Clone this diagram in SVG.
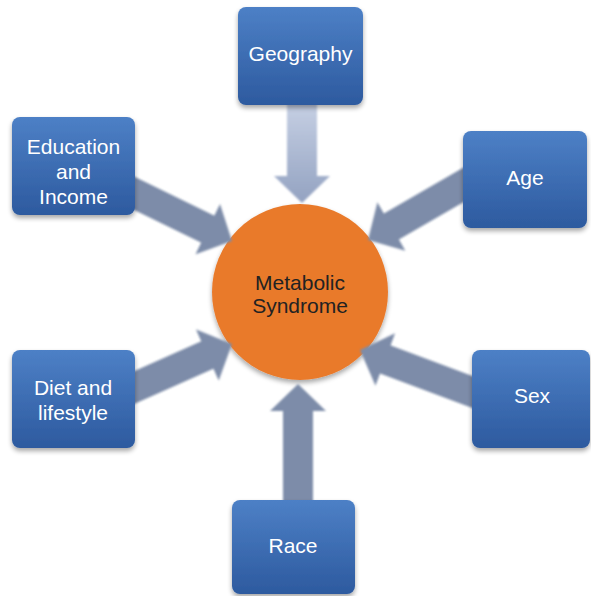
<svg xmlns="http://www.w3.org/2000/svg" width="591" height="596" viewBox="0 0 591 596">
  <defs>
    <linearGradient id="boxFill" x1="0" y1="0" x2="0" y2="1">
      <stop offset="0" stop-color="#4d80c6"/>
      <stop offset="1" stop-color="#2d5a9f"/>
    </linearGradient>
    <linearGradient id="geoFill" x1="0" y1="0" x2="1" y2="0">
      <stop offset="0" stop-color="#c6d0e4"/>
      <stop offset="1" stop-color="#93a2c1"/>
    </linearGradient>
    <filter id="shadow" x="-20%" y="-20%" width="140%" height="150%">
      <feGaussianBlur in="SourceAlpha" stdDeviation="2.5"/>
      <feOffset dx="0" dy="3" result="b"/>
      <feComponentTransfer><feFuncA type="linear" slope="0.35"/></feComponentTransfer>
      <feMerge><feMergeNode/><feMergeNode in="SourceGraphic"/></feMerge>
    </filter>
    <filter id="soft" x="-20%" y="-30%" width="140%" height="160%">
      <feGaussianBlur stdDeviation="0.8"/>
    </filter>
  </defs>
  <style>
    .box { fill: url(#boxFill); filter: url(#shadow); }
    .lbl { font-family: "Liberation Sans", Arial, sans-serif; font-size: 21px; fill: #ffffff; text-anchor: middle; }
    .hub { font-family: "Liberation Sans", Arial, sans-serif; font-size: 21px; fill: #222222; text-anchor: middle; }
    .arrow { fill: #7d8ca9; filter: url(#soft); }
  </style>

  <rect width="591" height="596" fill="#ffffff"/>

  <!-- central node -->
  <g id="metabolic-syndrome">
    <circle cx="300" cy="292" r="88" fill="#e97a2b" filter="url(#shadow)"/>
    <text class="hub" x="300" y="290">Metabolic</text>
    <text class="hub" x="300" y="313">Syndrome</text>
  </g>

  <!-- block arrows, each drawn with its tip at the local origin pointing along +x -->
  <g id="connectors">
    <path transform="translate(302,203) rotate(90)" fill="url(#geoFill)" filter="url(#soft)" d="M-100,-15 L-27,-15 L-27,-28 L0,0 L-27,28 L-27,15 L-100,15 Z"/>
    <path class="arrow" transform="translate(298,384) rotate(-90)" d="M-120,-15 L-27,-15 L-27,-28 L0,0 L-27,28 L-27,15 L-120,15 Z"/>
    <path class="arrow" transform="translate(232,241) rotate(26)" d="M-120,-15 L-27,-15 L-27,-28 L0,0 L-27,28 L-27,15 L-120,15 Z"/>
    <path class="arrow" transform="translate(232,344) rotate(-24)" d="M-120,-15 L-27,-15 L-27,-28 L0,0 L-27,28 L-27,15 L-120,15 Z"/>
    <path class="arrow" transform="translate(368,240) rotate(150)" d="M-120,-15 L-27,-15 L-27,-28 L0,0 L-27,28 L-27,15 L-120,15 Z"/>
    <path class="arrow" transform="translate(360,350) rotate(200.5)" d="M-130,-15 L-27,-15 L-27,-28 L0,0 L-27,28 L-27,15 L-130,15 Z"/>
  </g>

  <g id="geography">
    <rect class="box" x="238" y="7" width="125" height="98" rx="8"/>
    <text class="lbl" x="300.5" y="61">Geography</text>
  </g>

  <g id="education-income">
    <rect class="box" x="12" y="117" width="123" height="98" rx="8"/>
    <text class="lbl" x="73.5" y="154">Education</text>
    <text class="lbl" x="73.5" y="179">and</text>
    <text class="lbl" x="73.5" y="204">Income</text>
  </g>

  <g id="age">
    <rect class="box" x="463" y="131" width="124" height="97" rx="8"/>
    <text class="lbl" x="525" y="185">Age</text>
  </g>

  <g id="diet-lifestyle">
    <rect class="box" x="12" y="350" width="123" height="98" rx="8"/>
    <text class="lbl" x="73" y="395">Diet and</text>
    <text class="lbl" x="73" y="420">lifestyle</text>
  </g>

  <g id="sex">
    <rect class="box" x="472" y="350" width="118" height="98" rx="8"/>
    <text class="lbl" x="532" y="403">Sex</text>
  </g>

  <g id="race">
    <rect class="box" x="232" y="500" width="123" height="94" rx="8"/>
    <text class="lbl" x="293" y="553">Race</text>
  </g>
</svg>
